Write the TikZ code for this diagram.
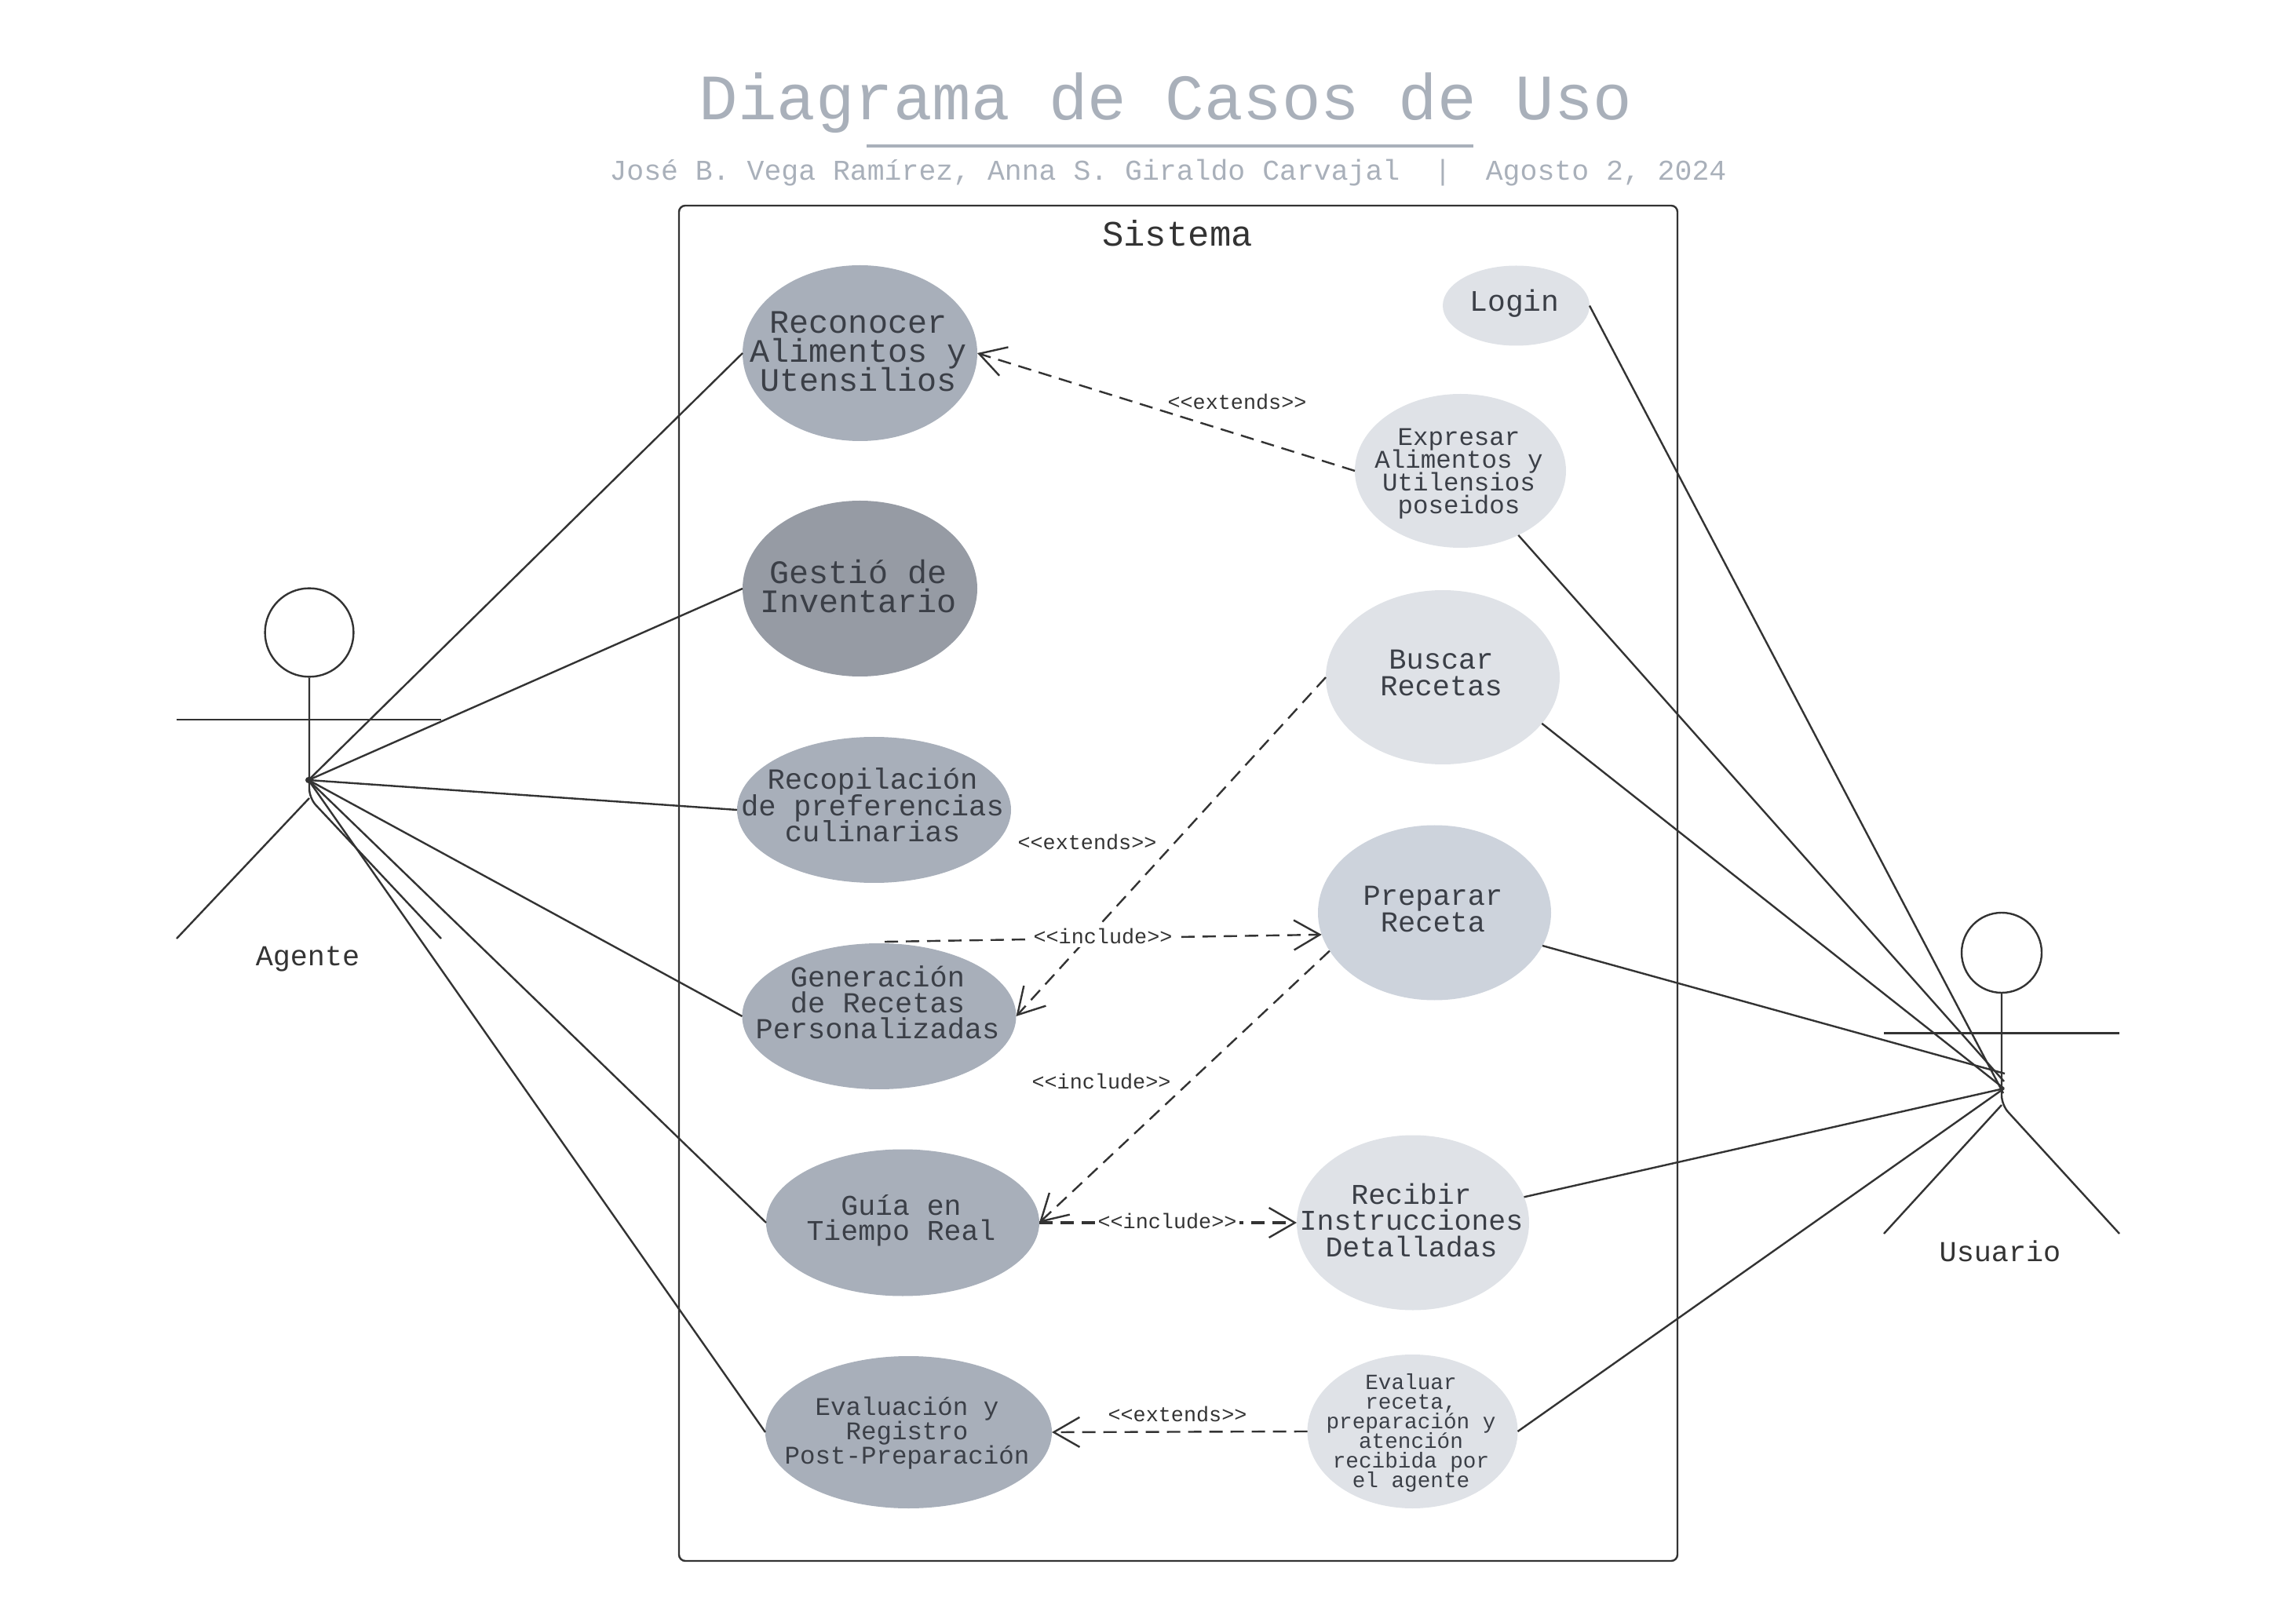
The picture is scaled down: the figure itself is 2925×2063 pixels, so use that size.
\documentclass[tikz,border=0pt]{standalone}
\usepackage{fontspec}
\setmainfont{Liberation Mono}
\newfontfamily\umlmono{Liberation Mono}
\usetikzlibrary{arrows.meta,shapes.geometric}
\definecolor{inkline}{HTML}{333333}
\definecolor{inktext}{HTML}{3B3F47}
\definecolor{titlecol}{HTML}{A9B0BA}
\definecolor{ucdark}{HTML}{A8AFBA}
\definecolor{ucdeep}{HTML}{969BA4}
\definecolor{ucmid}{HTML}{CDD3DC}
\definecolor{uclight}{HTML}{DFE2E7}
% font em, leading, raise (all pt), lines
\newcommand{\lnorm}{\rule[-.3em]{0pt}{1em}}
\newcommand{\etxt}[4]{\makebox[0pt]{\hspace{-1pt}\smash{\raisebox{\dimexpr#3-2.5pt\relax}{\fontsize{#1}{#2}\selectfont\parbox[c]{200pt}{\lineskiplimit=-100pt\centering\lnorm#4\lnorm}}}}}
\tikzset{
  uc/.style={ellipse,inner sep=0pt,outer sep=0pt,draw=none,text=inktext},
  assoc/.style={draw=inkline,line width=0.6pt},
  depline/.style={draw=inkline,line width=0.6pt,dash pattern=on 4.25pt off 2.5pt,-{Straight Barb[length=8.25pt,width=9.5pt,line width=0.6pt]}},
  stereo/.style={text=inkline,font=\umlmono\fontsize{6.7}{8}\selectfont,inner sep=1pt},
  actorlabel/.style={text=inkline,font=\umlmono\fontsize{9.2}{11}\selectfont,inner sep=0pt},
}
\begin{document}
\begin{tikzpicture}[x=0.25pt,y=-0.25pt]
\useasboundingbox (0,0) rectangle (2925,2063);

% title
\node[text=titlecol,font=\umlmono\fontsize{20.63}{24}\selectfont,inner sep=0pt,anchor=base] (title) at (1485,153) {Diagrama de Casos de Uso};
\coordinate (ruleL) at (1104,186);
\coordinate (ruleR) at (1877,186);
\draw[titlecol,line width=1pt] (ruleL) -- (ruleR);
\node[text=titlecol,font=\umlmono\fontsize{9.12}{11}\selectfont,inner sep=0pt,anchor=base] (subtitle) at (1488,230) {José B. Vega Ramírez, Anna S. Giraldo Carvajal~~|~~Agosto 2, 2024};

% system box
\node[draw=inkline,line width=0.6pt,rounded corners=2pt,minimum width=318pt,minimum height=431.75pt,inner sep=0pt] (sys) at (1501,1125.5) {};
\node[text=inkline,font=\umlmono\fontsize{11.4}{13}\selectfont,inner sep=0pt,anchor=base] (systitle) at (1500,314) {Sistema};

% agent-side use cases
\node[uc,fill=ucdark,minimum width=74.75pt,minimum height=56pt] (rec) at (1095.5,450) {\etxt{10.45}{9.25}{-0.75pt}{Reconocer\\Alimentos y\\Utensilios}};
\node[uc,fill=ucdeep,minimum width=74.75pt,minimum height=56pt] (ges) at (1095.5,750) {\etxt{10.45}{9.25}{-0.9pt}{Gestió de\\Inventario}};
\node[uc,fill=ucdark,minimum width=87.25pt,minimum height=46.5pt] (pref) at (1113.5,1032) {\etxt{9.3}{8.4}{0.4pt}{Recopilación\\de preferencias\\culinarias}};
\node[uc,fill=ucdark,minimum width=87.25pt,minimum height=46.5pt] (gen) at (1120,1295) {\etxt{9.25}{8.25}{3.25pt}{Generación\\de Recetas\\Personalizadas}};
\node[uc,fill=ucdark,minimum width=87pt,minimum height=46.75pt] (guia) at (1150,1558) {\etxt{9.12}{8}{0.6pt}{Guía en\\Tiempo Real}};
\node[uc,fill=ucdark,minimum width=91.25pt,minimum height=48.5pt] (eva) at (1157.5,1825) {\etxt{8.12}{7.75}{-0.25pt}{Evaluación y\\Registro\\Post-Preparación}};

% user-side use cases
\node[uc,fill=uclight,minimum width=46.75pt,minimum height=25.5pt] (login) at (1931.5,389.5) {\etxt{9.5}{9.5}{0.5pt}{Login}};
\node[uc,fill=uclight,minimum width=67.25pt,minimum height=49pt] (expr) at (1860.5,600) {\etxt{8.12}{7.25}{-0.75pt}{Expresar\\Alimentos y\\Utilensios\\poseidos}};
\node[uc,fill=uclight,minimum width=74.5pt,minimum height=55.5pt] (busc) at (1838,863) {\etxt{9.25}{8.4}{0.4pt}{Buscar\\Recetas}};
\node[uc,fill=ucmid,minimum width=74.25pt,minimum height=55.75pt] (prep) at (1827.5,1163) {\etxt{9.25}{8.4}{0.25pt}{Preparar\\Receta}};
\node[uc,fill=uclight,minimum width=74pt,minimum height=55.75pt] (reci) at (1800,1558) {\etxt{9.12}{8.4}{-0.25pt}{Recibir\\Instrucciones\\Detalladas}};
\node[uc,fill=uclight,minimum width=67pt,minimum height=49pt] (evar) at (1799.5,1824) {\etxt{6.92}{6.25}{0pt}{Evaluar\\receta,\\preparación y\\atención\\recibida por\\el agente}};

% actor: Agente
\node[circle,draw=inkline,line width=0.6pt,minimum size=28.2pt,inner sep=0pt] (ahead) at (394,806) {};
\coordinate (abody) at (394,1017);
\coordinate (aarmL) at (225,917);
\coordinate (aarmR) at (562,917);
\coordinate (alegL) at (225,1196);
\coordinate (alegR) at (562,1196);
\coordinate (ahub) at (393,994);
\draw[assoc,rounded corners=3pt] (ahead.south) -- (abody) -- (alegR);
\draw[assoc] (aarmL) -- (aarmR);
\draw[assoc] (abody) -- (alegL);
\node[actorlabel,anchor=base] (alabel) at (392,1231) {Agente};
\fill[inkline] (ahub) circle (1pt);

% actor: Usuario
\node[circle,draw=inkline,line width=0.6pt,minimum size=25.5pt,inner sep=0pt] (uhead) at (2550,1214) {};
\coordinate (ubody) at (2550,1408);
\coordinate (uarmL) at (2400,1316.5);
\coordinate (uarmR) at (2700,1316.5);
\coordinate (ulegL) at (2400,1572);
\coordinate (ulegR) at (2700,1572);
\coordinate (uhub) at (2553,1387);
\coordinate (uhubA) at (2552,1393);
\coordinate (uhubB) at (2553,1378);
\coordinate (uhubC) at (2554,1368);
\draw[assoc,rounded corners=3pt] (uhead.south) -- (ubody) -- (ulegR);
\draw[assoc] (uarmL) -- (uarmR);
\draw[assoc] (ubody) -- (ulegL);
\node[actorlabel,anchor=base] (ulabel) at (2548,1607) {Usuario};

% associations: Agente
\draw[assoc] (ahub) -- (rec.west);
\draw[assoc] (ahub) -- (ges.west);
\draw[assoc] (ahub) -- (pref.west);
\draw[assoc] (ahub) -- (gen.west);
\draw[assoc] (ahub) -- (guia.west);
\draw[assoc] (ahub) -- (eva.west);

% associations: Usuario
\draw[assoc] (login.east) -- (uhubA);
\draw[assoc] (expr.-48.6) -- (uhubB);
\draw[assoc] (busc.-25.5) -- (uhub);
\draw[assoc] (prep.-17.6) -- (uhubC);
\draw[assoc] (reci.13) -- (uhub);
\draw[assoc] (evar.east) -- (uhub);

% dependencies
\draw[depline] (expr.west) -- (rec.east);
\node[stereo] (l1) at (1576,512) {<{}<extends>{}>};
\draw[depline] (busc.west) -- (gen.east);
\node[stereo] (l2) at (1385,1073) {<{}<extends>{}>};
\draw[depline] (prep.200) -- (guia.east);
\node[stereo] (l4) at (1403,1378) {<{}<include>{}>};
\coordinate (gentop) at (1127,1200);
\draw[depline] (gentop) -- (prep.191);
\node[stereo,fill=white] (l3) at (1405,1193) {<{}<include>{}>};
\draw[depline,line width=0.85pt] (guia.east) -- (reci.west);
\node[stereo,fill=white] (l5) at (1487,1556) {<{}<include>{}>};
\draw[depline] (evar.west) -- (eva.east);
\node[stereo] (l6) at (1500,1802) {<{}<extends>{}>};
\end{tikzpicture}
\end{document}
